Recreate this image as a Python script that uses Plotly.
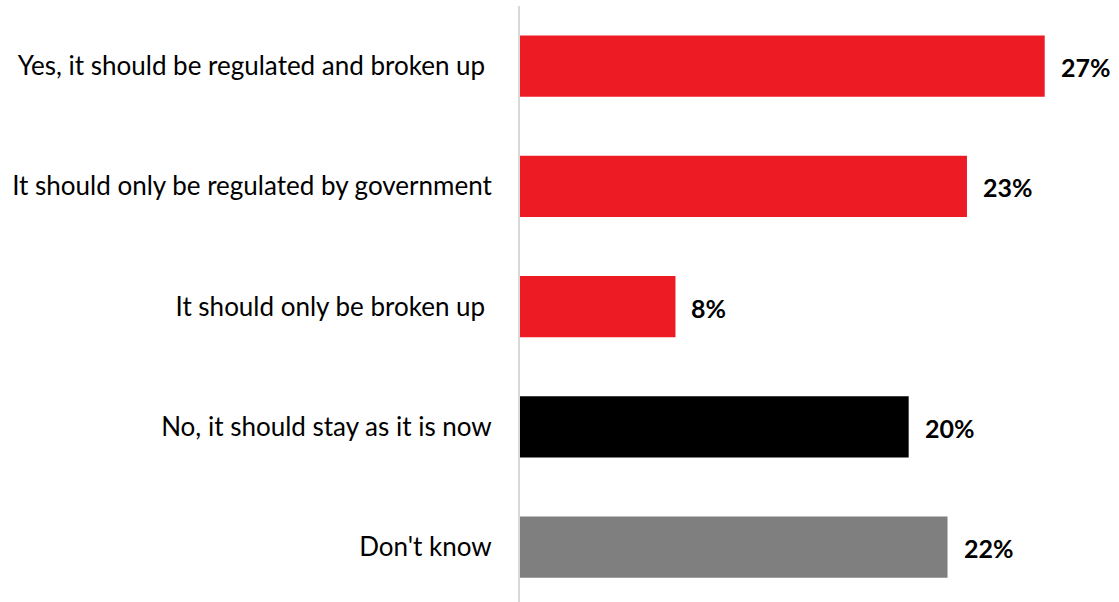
import plotly.graph_objects as go

categories = [
    "Yes, it should be regulated and broken up\u00a0",
    "It should only be regulated by government",
    "It should only be broken up\u00a0",
    "No, it should stay as it is now",
    "Don't know",
]
values = [27, 23, 8, 20, 22]
colors = ["#ED1C24", "#ED1C24", "#ED1C24", "#000000", "#7F7F7F"]
value_labels = [f"{v}%" for v in values]

FONT = "Lato"

fig = go.Figure()
fig.add_trace(go.Bar(
    x=values,
    y=categories,
    orientation="h",
    marker=dict(color=colors, line=dict(width=0)),
    hoverinfo="skip",
))

for v, c, t in zip(values, categories, value_labels):
    fig.add_annotation(
        x=v, y=c, text=f"<b>{t}</b>", showarrow=False,
        xanchor="left", yanchor="middle", xshift=14, yshift=-1,
        font=dict(family=FONT, size=25, color="#000000"),
    )

fig.update_layout(
    width=1119, height=602,
    margin=dict(l=520, r=16, t=6, b=0),
    paper_bgcolor="white", plot_bgcolor="white",
    bargap=0.49,
    showlegend=False,
    font=dict(family=FONT, size=26, color="#000000"),
)
fig.update_xaxes(range=[0, 30], visible=False, showgrid=False, zeroline=False)
fig.update_yaxes(
    categoryorder="array", categoryarray=categories,
    range=[4.456, -0.5],
    showgrid=False, zeroline=False,
    showline=True, linecolor="#D9D9D9", linewidth=2,
    ticks="", ticklabelstandoff=21,
    tickfont=dict(family=FONT, size=26, color="#000000"),
)

fig.write_html("out.html")
